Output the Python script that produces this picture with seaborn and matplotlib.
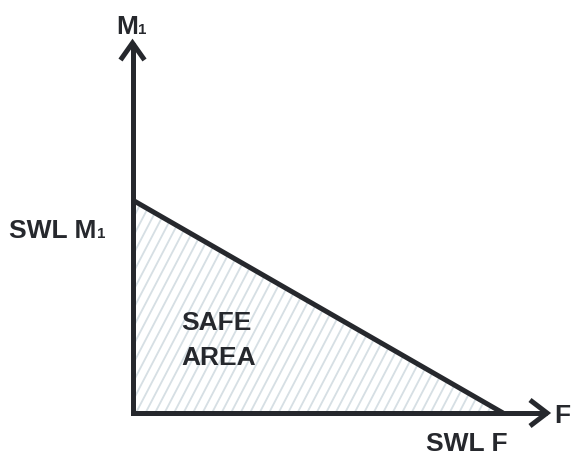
import matplotlib
matplotlib.use("Agg")
import matplotlib.pyplot as plt
from matplotlib.collections import LineCollection
import seaborn as sns
import numpy as np

# ---- data (normalised safe working limits) ----
force = [0.0, 1.0]      # F axis: 0 .. SWL F
moment = [1.0, 0.0]     # M1 axis: SWL M1 .. 0
axis_labels = ["F", "M", "1"]
limit_labels = ["SWL F", "SWL M", "SAFE\nAREA"]

W, H, DPI = 571, 455, 120
DARK = "#26282d"
HATCH = "#d6dfe4"

sns.set_theme(style="white")
plt.rcParams["font.family"] = ["Liberation Sans", "DejaVu Sans"]

fig = plt.figure(figsize=(W / DPI, H / DPI), dpi=DPI)
ax = fig.add_axes([0, 0, 1, 1])
ax.set_axis_off()

# pixel mapping: origin at (132.5, 413), SWL F at x=503, SWL M at y=200
ox, oy = 132.5, 413.0
sx, sy = 503.0 - ox, oy - 200.0
ax.set_xlim(-ox / sx, (W - ox) / sx)
ax.set_ylim(-(H - oy) / sy, oy / sy)

# safe area (clip region for the hatch pattern)
area = ax.fill_between(force, moment, 0, facecolor="none", linewidth=0,
                       zorder=1)

# steep diagonal hatch pattern (styling), spacing in pixels
angle = np.deg2rad(62)
spacing_px = 9.5
run = 1.0 / np.tan(angle)          # horizontal px per vertical px
height_px = 230.0
segs = []
for c in np.arange(-height_px * run, 400, spacing_px):
    x0 = c / sx
    x1 = (c + height_px * run) / sx
    segs.append([(x0, -0.02), (x1, height_px / sy)])
hatch = LineCollection(segs, colors=HATCH, linewidths=1.1, zorder=1)
ax.add_collection(hatch)
hatch.set_clip_path(area.get_paths()[0], ax.transData)

# boundary line
sns.lineplot(x=force, y=moment, ax=ax, color=DARK, linewidth=3.0,
             solid_capstyle="butt", zorder=3)

# axes with arrowheads
x_end = (547 - ox) / sx
y_end = (oy - 43) / sy
ax.plot([0, 0, x_end], [y_end, 0, 0], color=DARK, linewidth=3.0,
        solid_joinstyle="miter", solid_capstyle="butt", zorder=4)
ax.plot([-12 / sx, 0, 12 / sx], [y_end - 17 / sy, y_end, y_end - 17 / sy],
        color=DARK, linewidth=3.0, solid_joinstyle="miter",
        solid_capstyle="butt", zorder=4)
ax.plot([x_end - 17 / sx, x_end, x_end - 17 / sx], [13 / sy, 0, -13 / sy],
        color=DARK, linewidth=3.0, solid_joinstyle="miter",
        solid_capstyle="butt", zorder=4)

FS = 15.8
SUB = 9.0


def ptext(x, y, s, size=FS, **kw):
    return fig.text(x / W, 1 - y / H, s, fontsize=size, fontweight="bold",
                    color=DARK, ha="left", va="baseline", **kw)


fig.canvas.draw()
renderer = fig.canvas.get_renderer()


def with_sub(x, y, main, sub):
    t = ptext(x, y, main)
    bb = t.get_window_extent(renderer)
    fig.text((bb.x1 + 0.5) / W, 1 - y / H, sub, fontsize=SUB,
             fontweight="bold", color=DARK, ha="left", va="baseline")


with_sub(116, 34, axis_labels[1], axis_labels[2])
with_sub(9, 238, limit_labels[1], axis_labels[2])
ptext(554, 423, axis_labels[0])
ptext(426, 451, limit_labels[0])
ptext(181, 330, limit_labels[2].split("\n")[0])
ptext(181, 365, limit_labels[2].split("\n")[1])

fig.savefig("out.png", dpi=DPI)
